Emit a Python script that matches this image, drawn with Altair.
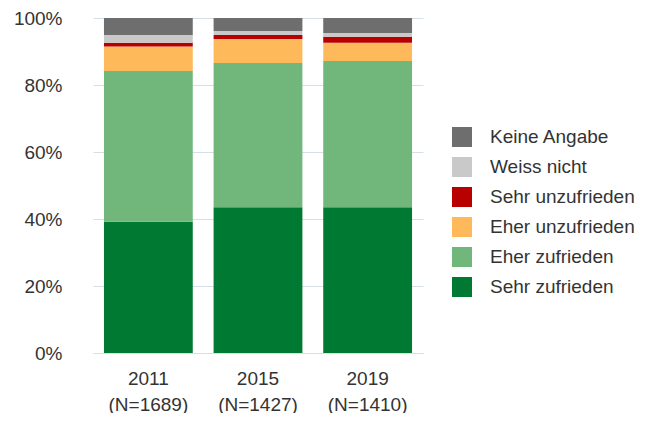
import altair as alt
import pandas as pd

years = ["2011\n(N=1689)", "2015\n(N=1427)", "2019\n(N=1410)"]
categories = ["Sehr zufrieden", "Eher zufrieden", "Eher unzufrieden",
              "Sehr unzufrieden", "Weiss nicht", "Keine Angabe"]
values = {
    "Sehr zufrieden":   [39.2, 43.5, 43.5],
    "Eher zufrieden":   [45.0, 43.1, 43.7],
    "Eher unzufrieden": [7.3, 7.1, 5.4],
    "Sehr unzufrieden": [1.1, 1.2, 1.8],
    "Weiss nicht":      [2.3, 1.2, 1.1],
    "Keine Angabe":     [5.1, 3.9, 4.5],
}
colors = {
    "Keine Angabe": "#6e6e6e",
    "Weiss nicht": "#c9c9c9",
    "Sehr unzufrieden": "#b80000",
    "Eher unzufrieden": "#fdb95a",
    "Eher zufrieden": "#71b77c",
    "Sehr zufrieden": "#007a33",
}

rows = []
for ci, c in enumerate(categories):
    for yi, y in enumerate(years):
        rows.append({"year": y, "cat": c, "ord": ci, "val": values[c][yi] / 100})
df = pd.DataFrame(rows)

legend_order = categories[::-1]
FONT = "Liberation Sans"
TXT = "#333333"

chart = alt.Chart(df).mark_bar().encode(
    x=alt.X("year:N", sort=years, title=None,
            scale=alt.Scale(paddingInner=0.19, paddingOuter=0.1),
            axis=alt.Axis(labelAngle=0, labelExpr="split(datum.label, '\\n')",
                          labelFontSize=19, labelLineHeight=26, labelPadding=16,
                          ticks=False, domainColor="#d5dfe8", labelColor=TXT,
                          labelFont=FONT)),
    y=alt.Y("val:Q", title=None, stack="zero",
            scale=alt.Scale(domain=[0, 1]),
            axis=alt.Axis(format="%", values=[0, 0.2, 0.4, 0.6, 0.8, 1.0],
                          labelFontSize=19, labelPadding=31, ticks=False, domain=False,
                          gridColor="#d5dfe8", labelColor=TXT,
                          labelFont=FONT)),
    color=alt.Color("cat:N", title=None,
                    scale=alt.Scale(domain=legend_order,
                                    range=[colors[c] for c in legend_order]),
                    legend=alt.Legend(orient="none", legendX=359, legendY=109,
                                      symbolType="square", symbolSize=400,
                                      symbolStrokeWidth=0,
                                      labelFontSize=19, labelOffset=18,
                                      rowPadding=10, labelColor=TXT,
                                      labelFont=FONT, labelLimit=300)),
    order=alt.Order("ord:Q", sort="ascending"),
).properties(
    width=330, height=335,
    autosize=alt.AutoSizeParams(type="none"),
    padding={"left": 85, "top": 10, "right": 219, "bottom": 60},
).configure_view(stroke=None)

chart.save("out.html", embed_options={"renderer": "svg", "actions": False})
